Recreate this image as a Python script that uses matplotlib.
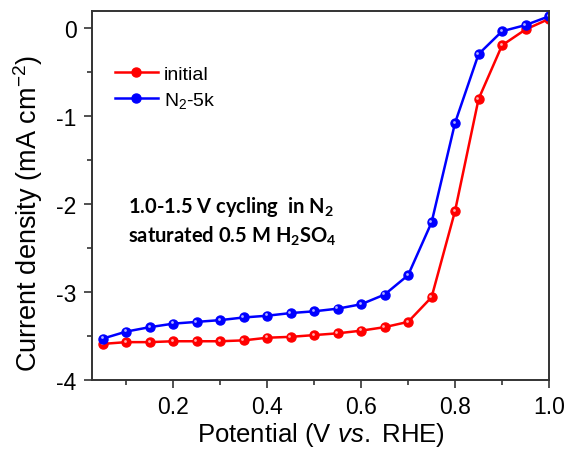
import numpy as np
import matplotlib.pyplot as plt
from matplotlib.ticker import MultipleLocator
from matplotlib.transforms import ScaledTranslation

plt.rcParams['font.family'] = ['Liberation Sans', 'DejaVu Sans']
plt.rcParams['mathtext.fontset'] = 'custom'
plt.rcParams['mathtext.rm'] = 'Liberation Sans'
plt.rcParams['mathtext.it'] = 'Liberation Sans:italic'
plt.rcParams['mathtext.bf'] = 'Lato:bold'
plt.rcParams['axes.unicode_minus'] = False

potential = [0.05, 0.10, 0.15, 0.20, 0.25, 0.30, 0.35, 0.40, 0.45, 0.50,
             0.55, 0.60, 0.65, 0.70, 0.75, 0.80, 0.85, 0.90, 0.95, 1.00]
initial = [-3.59, -3.57, -3.57, -3.56, -3.56, -3.56, -3.55, -3.52, -3.51, -3.49,
           -3.47, -3.44, -3.40, -3.34, -3.06, -2.08, -0.81, -0.20, -0.02, 0.10]
n2_5k = [-3.53, -3.45, -3.40, -3.36, -3.34, -3.32, -3.29, -3.27, -3.24, -3.22,
         -3.19, -3.14, -3.03, -2.81, -2.21, -1.08, -0.30, -0.04, 0.03, 0.13]

fig = plt.figure(figsize=(5.67, 4.56), dpi=100)
ax = fig.add_axes([92 / 567, 1 - 381 / 456, (549 - 92) / 567, (381 - 12) / 456])

# shift for the glossy spot on each ball
shine = ax.transData + ScaledTranslation(-0.9 / 72, 0.9 / 72, fig.dpi_scale_trans)

series = [(initial, '#ff0000', '#ffb0b0', 'initial'),
          (n2_5k, '#0000ff', '#b0b0ff', 'N$_2$-5k')]
for y, c, hi, lab in series:
    ax.plot(potential, y, '-o', color=c, lw=1.8, ms=6.5, mec=c, mfc=c, label=lab)
    ax.plot(potential, y, 'o', color=hi, ms=2.0, mec='none', transform=shine)

ax.set_xlim(0.027, 1.0)
ax.set_ylim(-4, 0.19)
ax.xaxis.set_major_locator(MultipleLocator(0.2))
ax.xaxis.set_minor_locator(MultipleLocator(0.1))
ax.yaxis.set_major_locator(MultipleLocator(1))
ax.yaxis.set_minor_locator(MultipleLocator(0.5))
ax.tick_params(which='both', direction='out', top=False, right=False,
               width=1.2, color='#333333', labelsize=16.5, pad=5)
ax.tick_params(which='major', length=6)
ax.tick_params(which='minor', length=3.5)
for s in ax.spines.values():
    s.set_linewidth(1.4)
    s.set_color('#333333')

ax.set_xlabel('Potential (V $\\mathit{vs.}$ RHE)', fontsize=18.5, labelpad=1)
ax.set_ylabel('Current density (mA cm$^{-2}$)', fontsize=19.5)
ax.yaxis.set_label_coords(-0.102, 0.455)

ax.legend(loc='upper left', bbox_to_anchor=(0.012, 0.9), frameon=False,
          fontsize=14, handlelength=2.2, handletextpad=0.3, labelspacing=0.35)

note_font = ['Lato', 'DejaVu Sans']
ax.text(0.078, 0.454, '1.0-1.5 V cycling  in N$_\\mathbf{2}$', transform=ax.transAxes,
        fontsize=14.5, fontweight='bold', family=note_font, va='baseline')
ax.text(0.078, 0.376, 'saturated 0.5 M H$_\\mathbf{2}$SO$_\\mathbf{4}$', transform=ax.transAxes,
        fontsize=14.5, fontweight='bold', family=note_font, va='baseline')

fig.savefig('out.png', dpi=100)
